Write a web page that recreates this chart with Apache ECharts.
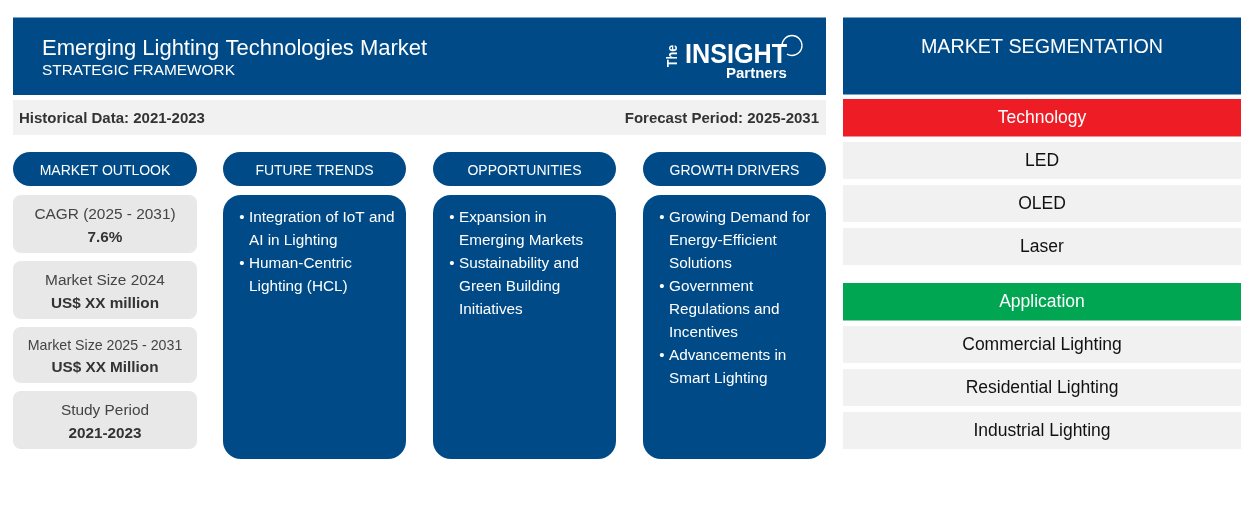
<!DOCTYPE html>
<html><head><meta charset="utf-8">
<style>html,body{margin:0;padding:0;background:#fff}#c{width:1254px;height:530px}</style>
<script src="https://cdn.jsdelivr.net/npm/echarts@6/dist/echarts.min.js"></script>
</head><body><div id="c"></div>
<script>
const titleText = 'Emerging Lighting Technologies Market';
const subtitleText = 'STRATEGIC FRAMEWORK';
const historical = 'Historical Data: 2021-2023';
const forecast = 'Forecast Period: 2025-2031';
const columnHeads = ['MARKET OUTLOOK', 'FUTURE TRENDS', 'OPPORTUNITIES', 'GROWTH DRIVERS'];
const outlookLabels = ['CAGR (2025 - 2031)', 'Market Size 2024', 'Market Size 2025 - 2031', 'Study Period'];
const outlookValues = ['7.6%', 'US$ XX million', 'US$ XX Million', '2021-2023'];
const trends = [['Integration of IoT and', 'AI in Lighting'], ['Human-Centric', 'Lighting (HCL)']];
const opportunities = [['Expansion in', 'Emerging Markets'], ['Sustainability and', 'Green Building', 'Initiatives']];
const drivers = [['Growing Demand for', 'Energy-Efficient', 'Solutions'], ['Government', 'Regulations and', 'Incentives'], ['Advancements in', 'Smart Lighting']];
const segTitle = 'MARKET SEGMENTATION';
const techHead = 'Technology';
const techItems = ['LED', 'OLED', 'Laser'];
const appHead = 'Application';
const appItems = ['Commercial Lighting', 'Residential Lighting', 'Industrial Lighting'];

const BLUE = '#004b87', F = '"Liberation Sans", Arial, sans-serif';
const els = [];
function box(x, y, w, h, fill, r) {
  els.push({type:'rect', shape:{x, y, width:w, height:h, r:r||0}, style:{fill}});
}
function txt(text, x, y, size, fill, opt) {
  opt = opt || {};
  els.push({type:'text', x, y, rotation:opt.rot||0, scaleX:opt.sx||1, style:{text, fill, align:opt.align||'center', verticalAlign:'middle',
    font:(opt.bold?'bold ':'')+size+'px '+F}});
}
box(13, 17.5, 813, 77.5, BLUE);
txt(titleText, 42, 49, 22, '#fff', {align:'left'});
txt(subtitleText, 42, 70.5, 15.4, '#fff', {align:'left'});
box(13, 100, 813, 35, '#f1f1f1');
txt(historical, 19, 118.5, 15, '#333', {align:'left', bold:true});
txt(forecast, 819, 118.5, 15, '#333', {align:'right', bold:true});

// logo
txt('INSIGHT', 685, 55.5, 28, '#fff', {align:'left', bold:true, sx:0.9});
txt('Partners', 726, 73.5, 15, '#fff', {align:'left', bold:true});
txt('The', 673, 56, 14, '#fff', {rot:Math.PI/2, bold:true, sx:0.9});
els.push({type:'arc', shape:{cx:792, cy:45.5, r:10, startAngle:-Math.PI, endAngle:2.1}, style:{stroke:'#fff', fill:null, lineWidth:1.3}});

// column heads
const colX = [13, 223, 433, 643], colW = [184, 183, 183, 183];
columnHeads.forEach((t, i) => {
  box(colX[i], 152, colW[i], 34, BLUE, 17);
  txt(t, colX[i] + colW[i]/2, 171, 14, '#fff');
});
// outlook cards
const cardY = [195, 261, 327, 391], cardH = [58, 58, 56, 58], labelSize = [15.4, 15.4, 14.2, 15.4];
outlookLabels.forEach((t, i) => {
  box(13, cardY[i], 184, cardH[i], '#e8e8e8', 8);
  txt(t, 105, cardY[i] + 19.5, labelSize[i], '#444');
  txt(outlookValues[i], 105, cardY[i] + (i===2?40.5:42.5), 15.3, '#333', {bold:true});
});
// panels
[trends, opportunities, drivers].forEach((groups, i) => {
  const x = colX[i+1], w = colW[i+1];
  box(x, 195, w, 264, BLUE, 18);
  let y = 217.5;
  groups.forEach(lines => {
    txt('•', x + 19, y, 15, '#fff');
    lines.forEach(l => { txt(l, x + 26, y, 15.3, '#fff', {align:'left'}); y += 23.1; });
  });
});
// segmentation
box(843, 17.5, 398, 77, BLUE);
txt(segTitle, 1042, 47.5, 19.7, '#fff');
function seg(head, color, items, y0) {
  box(843, y0, 398, 37.5, color);
  txt(head, 1042, y0 + 19.5, 17.5, '#fff');
  items.forEach((t, i) => {
    box(843, y0 + 43 + i*43, 398, 37, '#f1f1f1');
    txt(t, 1042, y0 + 62.5 + i*43, 17.5, '#111');
  });
}
seg(techHead, '#ee1c25', techItems, 99);
seg(appHead, '#00a651', appItems, 283);

const chart = echarts.init(document.getElementById('c'), null, {renderer:'canvas'});
chart.setOption({animation:false, backgroundColor:'#fff', graphic:{elements:els}});
</script></body></html>
